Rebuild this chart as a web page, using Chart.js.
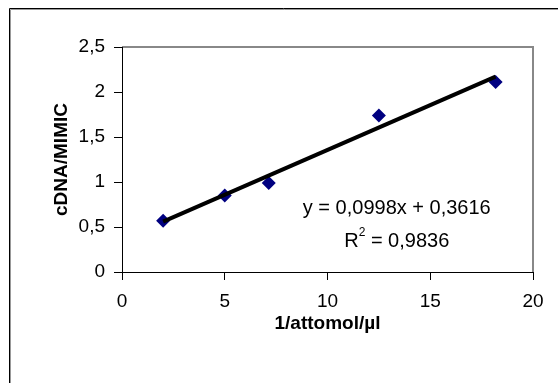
<!DOCTYPE html>
<html><head><meta charset="utf-8">
<script src="https://cdn.jsdelivr.net/npm/chart.js@4/dist/chart.umd.min.js"></script>
<style>html,body{margin:0;padding:0;background:#fff;}#wrap{width:558px;height:383px;position:relative;}</style>
</head><body><div id="wrap"><canvas id="c" width="558" height="383"></canvas></div>
<script>
const xValues = [2, 5, 7.14, 12.5, 18.18];
const yValues = [0.57, 0.85, 0.99, 1.74, 2.11];
const trendX = [2, 18.18];
const trendY = [0.56, 2.17];
const xTickLabels = ['0', '5', '10', '15', '20'];
const yTickLabels = ['0', '0,5', '1', '1,5', '2', '2,5'];
const xTitle = '1/attomol/µl';
const yTitle = 'cDNA/MIMIC';
const eqLine1 = 'y = 0,0998x + 0,3616';
const eqLabelPos = [13.37, 0.71, 0.34];

const FONT = '"Liberation Sans", Arial, sans-serif';

const extras = {
  id: 'extras',
  beforeDraw(chart) {
    const ctx = chart.ctx;
    ctx.save();
    ctx.fillStyle = '#fff';
    ctx.fillRect(0, 0, chart.width, chart.height);
    ctx.strokeStyle = '#000';
    ctx.lineWidth = 1;
    ctx.beginPath();
    ctx.moveTo(9.5, 383); ctx.lineTo(9.5, 8.5); ctx.lineTo(558, 8.5);
    ctx.stroke();
    ctx.strokeStyle = '#999';
    ctx.beginPath();
    ctx.moveTo(10.5, 383); ctx.lineTo(10.5, 9.5); ctx.lineTo(558, 9.5);
    ctx.stroke();
    const a = chart.chartArea;
    ctx.strokeStyle = '#888';
    ctx.lineWidth = 2;
    ctx.beginPath();
    ctx.moveTo(a.left, a.top); ctx.lineTo(a.right, a.top); ctx.lineTo(a.right, a.bottom);
    ctx.stroke();
    ctx.restore();
  },
  afterDatasetsDraw(chart) {
    const ctx = chart.ctx;
    const xs = chart.scales.x, ys = chart.scales.y;
    ctx.save();
    ctx.fillStyle = '#000';
    const F = 20;
    ctx.font = F + 'px ' + FONT;
    ctx.textAlign = 'center';
    ctx.textBaseline = 'middle';
    const cx = xs.getPixelForValue(eqLabelPos[0]);
    ctx.fillText(eqLine1, cx, ys.getPixelForValue(eqLabelPos[1]));
    const y2 = ys.getPixelForValue(eqLabelPos[2]);
    const partA = 'R', partB = ' = 0,9836';
    const wA = ctx.measureText(partA).width;
    const wB = ctx.measureText(partB).width;
    ctx.font = '12px ' + FONT;
    const wS = ctx.measureText('2').width;
    const total = wA + wS + wB;
    const x0 = cx - total / 2;
    ctx.textAlign = 'left';
    ctx.font = F + 'px ' + FONT;
    ctx.fillText(partA, x0, y2);
    ctx.font = '12px ' + FONT;
    ctx.fillText('2', x0 + wA, y2 - 9);
    ctx.font = F + 'px ' + FONT;
    ctx.fillText(partB, x0 + wA + wS, y2);
    ctx.restore();
  }
};

new Chart(document.getElementById('c'), {
  type: 'scatter',
  data: {
    datasets: [
      {
        type: 'line',
        data: trendX.map((x, i) => ({ x: x, y: trendY[i] })),
        borderColor: '#000',
        borderWidth: 4,
        pointRadius: 0,
        fill: false,
        order: 0
      },
      {
        data: xValues.map((x, i) => ({ x: x, y: yValues[i] })),
        pointStyle: 'rectRot',
        pointRadius: 7,
        backgroundColor: '#000080',
        borderColor: '#000080',
        borderWidth: 0,
        order: 1
      }
    ]
  },
  options: {
    responsive: false,
    animation: false,
    layout: { padding: { left: 0, top: 47, right: 25, bottom: 0 } },
    plugins: { legend: { display: false }, tooltip: { enabled: false } },
    scales: {
      x: {
        type: 'linear', min: 0, max: 20,
        afterFit(s) { s.height = 111; },
        afterBuildTicks(s) { s.ticks = xTickLabels.map((t, i) => ({ value: i * 5 })); },
        ticks: { color: '#000', font: { family: FONT, size: 19 }, padding: 10,
          callback: (v, i) => xTickLabels[i], maxRotation: 0 },
        grid: { drawOnChartArea: false, drawTicks: true, tickLength: 8, color: '#000' },
        border: { display: true, color: '#000', width: 1 },
        title: { display: true, text: xTitle, color: '#000', font: { family: FONT, size: 19, weight: 'bold' }, padding: { top: 0, bottom: 48 } }
      },
      y: {
        type: 'linear', min: 0, max: 2.5,
        afterFit(s) { s.width = 122; },
        afterBuildTicks(s) { s.ticks = yTickLabels.map((t, i) => ({ value: i * 0.5 })); },
        ticks: { color: '#000', font: { family: FONT, size: 19 }, padding: 9,
          callback: (v, i) => yTickLabels[i] },
        grid: { drawOnChartArea: false, drawTicks: true, tickLength: 8, color: '#000' },
        border: { display: true, color: '#000', width: 1 },
        title: { display: true, text: yTitle, color: '#000', font: { family: FONT, size: 19, weight: 'bold' }, padding: { top: 50, bottom: 0 } }
      }
    }
  },
  plugins: [extras]
});
</script></body></html>
